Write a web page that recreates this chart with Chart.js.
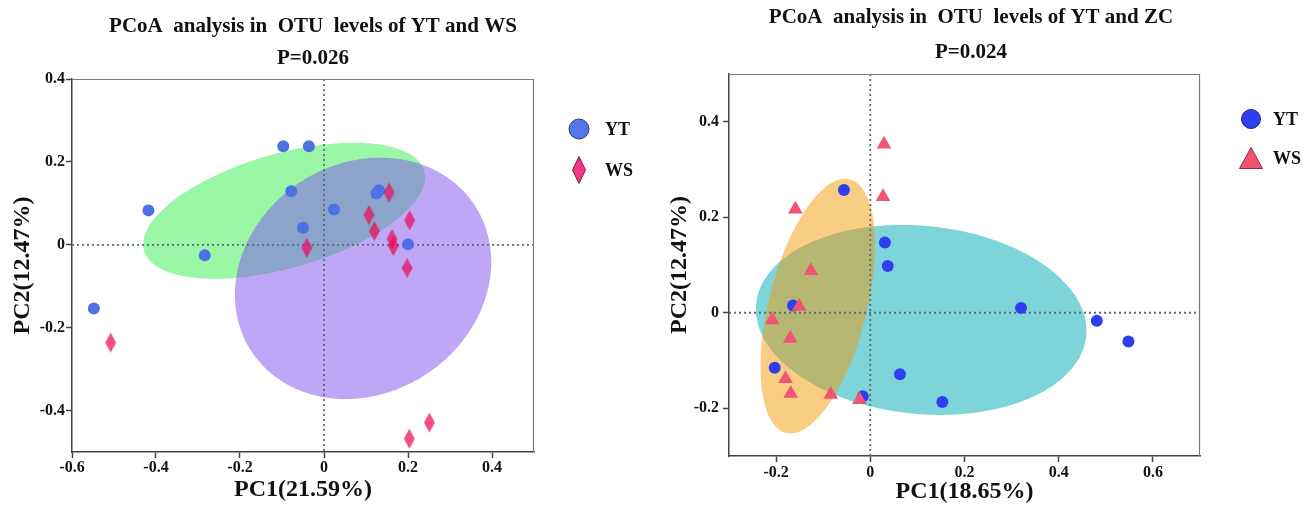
<!DOCTYPE html>
<html><head><meta charset="utf-8">
<script src="https://cdn.jsdelivr.net/npm/chart.js@4.4.1/dist/chart.umd.min.js"></script>
<style>
html,body{margin:0;padding:0;background:#fff;}
#wrap{position:relative;width:1307px;height:507px;overflow:hidden;background:#fff;}
canvas{position:absolute;top:0;}
#c1{left:0;} #c2{left:650px;}
</style></head><body>
<div id="wrap"><canvas id="c1" width="650" height="507"></canvas><canvas id="c2" width="657" height="507"></canvas></div>
<script>
// ---------- data : chart 1 (YT vs WS) ----------
const seriesLabels = ['YT', 'WS'];
const title1 = ['PCoA  analysis in  OTU  levels of YT and WS', 'P=0.026'];
const xTitle1 = 'PC1(21.59%)';
const yTitle1 = 'PC2(12.47%)';
const c1_YT_pc1 = [-0.548, -0.418, -0.284, -0.097, -0.036, -0.078, -0.050, 0.024, 0.125, 0.131, 0.200];
const c1_YT_pc2 = [-0.154, 0.083, -0.025, 0.238, 0.238, 0.129, 0.041, 0.085, 0.124, 0.131, 0.001];
const c1_WS_pc1 = [-0.508, 0.203, 0.251, 0.155, 0.107, 0.120, -0.041, 0.204, 0.162, 0.165, 0.198];
const c1_WS_pc2 = [-0.236, -0.468, -0.429, 0.126, 0.072, 0.033, -0.007, 0.059, 0.014, -0.003, -0.056];
// confidence ellipses: [centre pc1, centre pc2, semi-axis a, semi-axis b, angle deg]
const c1_YT_ellipse = [-0.095, 0.082, 0.347, 0.138, 16.2];
const c1_WS_ellipse = [0.093, -0.081, 0.319, 0.276, 35.6];
const c1_xRange = [-0.6, 0.5];
const c1_yRange = [-0.5, 0.4];
const c1_xTicks = [-0.6, -0.4, -0.2, 0, 0.2, 0.4];
const c1_yTicks = [-0.4, -0.2, 0, 0.2, 0.4];

// ---------- data : chart 2 (YT vs ZC) ----------
const title2 = ['PCoA  analysis in  OTU  levels of YT and ZC', 'P=0.024'];
const xTitle2 = 'PC1(18.65%)';
const yTitle2 = 'PC2(12.47%)';
const c2_YT_pc1 = [-0.056, 0.031, 0.037, -0.164, 0.320, 0.481, 0.548, -0.203, 0.063, -0.016, 0.153];
const c2_YT_pc2 = [0.257, 0.147, 0.098, 0.015, 0.010, -0.017, -0.060, -0.115, -0.129, -0.175, -0.187];
const c2_WS_pc1 = [0.029, 0.027, -0.159, -0.126, -0.151, -0.208, -0.170, -0.180, -0.169, -0.084, -0.023];
const c2_WS_pc2 = [0.353, 0.243, 0.217, 0.088, 0.013, -0.015, -0.054, -0.138, -0.169, -0.171, -0.182];
const c2_YT_ellipse = [0.108, -0.015, 0.352, 0.197, -5.4];
const c2_WS_ellipse = [-0.1115, 0.014, 0.274, 0.104, 75.6];
const c2_xRange = [-0.3, 0.7];
const c2_yRange = [-0.3, 0.5];
const c2_xTicks = [-0.2, 0, 0.2, 0.4, 0.6];
const c2_yTicks = [-0.2, 0, 0.2, 0.4];

// ---------- helpers ----------
const SERIF = '"Liberation Serif", "Times New Roman", serif';
const pts = (xs, ys) => xs.map((v, i) => ({x: v, y: ys[i]}));
const fmt = v => String(Number(Number(v).toFixed(1)) || 0);

function diamondImage(w, h, fill, stroke) {
  const c = document.createElement('canvas');
  c.width = w + 2; c.height = h + 2;
  const g = c.getContext('2d');
  g.beginPath();
  g.moveTo(c.width / 2, 1); g.lineTo(c.width - 1, c.height / 2);
  g.lineTo(c.width / 2, c.height - 1); g.lineTo(1, c.height / 2); g.closePath();
  g.fillStyle = fill; g.fill();
  if (stroke) { g.strokeStyle = stroke; g.lineWidth = 1; g.stroke(); }
  return c;
}

const decor = {
  id: 'decor',
  beforeDatasetsDraw(chart, args, opts) {
    const {ctx, chartArea: ca} = chart;
    const sx = chart.scales.x, sy = chart.scales.y;
    ctx.save();
    ctx.beginPath(); ctx.rect(ca.left, ca.top, ca.right - ca.left, ca.bottom - ca.top); ctx.clip();
    for (const e of opts.ellipses) {
      const [cx, cy, a, b, deg] = e.params;
      const th = deg * Math.PI / 180;
      ctx.beginPath();
      for (let i = 0; i <= 240; i++) {
        const t = i / 240 * 2 * Math.PI;
        const dx = a * Math.cos(t), dy = b * Math.sin(t);
        const vx = cx + dx * Math.cos(th) - dy * Math.sin(th);
        const vy = cy + dx * Math.sin(th) + dy * Math.cos(th);
        const px = sx.getPixelForValue(vx), py = sy.getPixelForValue(vy);
        if (i) ctx.lineTo(px, py); else ctx.moveTo(px, py);
      }
      ctx.closePath();
      ctx.fillStyle = e.color; ctx.fill();
    }
    ctx.setLineDash([2, 3]);
    ctx.lineWidth = 1.8;
    ctx.strokeStyle = '#5b6b7b';
    const x0 = sx.getPixelForValue(0), y0 = sy.getPixelForValue(0);
    ctx.beginPath();
    ctx.moveTo(x0, ca.top); ctx.lineTo(x0, ca.bottom);
    ctx.moveTo(ca.left, y0); ctx.lineTo(ca.right, y0);
    ctx.stroke();
    ctx.restore();
  },
  afterDraw(chart, args, opts) {
    const {ctx, chartArea: ca} = chart;
    ctx.save();
    ctx.strokeStyle = '#7a7a7a'; ctx.lineWidth = 1.2;
    ctx.beginPath();
    ctx.moveTo(ca.left, ca.top + 0.5); ctx.lineTo(ca.right - 0.5, ca.top + 0.5); ctx.lineTo(ca.right - 0.5, ca.bottom);
    ctx.stroke();
    // legend
    const L = opts.legend;
    chart.data.datasets.forEach((ds, i) => {
      const m = L.markers[i];
      const cy = L.ys[i];
      ctx.beginPath();
      if (m.type === 'circle') {
        ctx.arc(L.x, cy, m.r, 0, Math.PI * 2);
      } else if (m.type === 'diamond') {
        ctx.moveTo(L.x, cy - m.h / 2); ctx.lineTo(L.x + m.w / 2, cy);
        ctx.lineTo(L.x, cy + m.h / 2); ctx.lineTo(L.x - m.w / 2, cy); ctx.closePath();
      } else if (m.type === 'triangle') {
        ctx.moveTo(L.x, cy - m.h / 2); ctx.lineTo(L.x + m.w / 2, cy + m.h / 2);
        ctx.lineTo(L.x - m.w / 2, cy + m.h / 2); ctx.closePath();
      }
      ctx.fillStyle = m.fill; ctx.fill();
      ctx.strokeStyle = m.stroke; ctx.lineWidth = 1; ctx.stroke();
      ctx.fillStyle = '#111';
      ctx.font = 'bold 18px ' + SERIF;
      ctx.textAlign = 'left'; ctx.textBaseline = 'middle';
      ctx.fillText(ds.label, L.textX, cy + 1);
    });
    ctx.restore();
  }
};

function makeConfig(c) {
  const tickFont = {family: SERIF, weight: 'bold', size: 16};
  const titleFont = {family: SERIF, weight: 'bold', size: 24, lineHeight: 1.2};
  return {
    type: 'scatter',
    data: {datasets: c.datasets},
    plugins: [decor],
    options: {
      responsive: false, animation: false, devicePixelRatio: 1,
      layout: {padding: {left: 0, right: c.padR, top: 0, bottom: 0}},
      plugins: {
        legend: {display: false},
        tooltip: {enabled: false},
        title: {display: true, text: c.title, color: '#111',
          font: {family: SERIF, weight: 'bold', size: 21, lineHeight: c.titleLH},
          padding: {top: c.titlePadTop, bottom: 4}},
        decor: {ellipses: c.ellipses, legend: c.legend}
      },
      scales: {
        x: {
          type: 'linear', position: 'bottom', min: c.xRange[0], max: c.xRange[1],
          afterBuildTicks: s => { s.ticks = c.xTicks.map(v => ({value: v})); },
          afterFit: s => { s.height = c.xH; },
          ticks: {font: tickFont, color: '#111', padding: c.xTickPad, autoSkip: false, maxRotation: 0, callback: fmt},
          grid: {drawOnChartArea: false, drawTicks: true, tickLength: 6, tickColor: '#444', tickWidth: 1.5},
          border: {display: true, color: '#444', width: 1.5},
          title: {display: true, text: c.xTitle, color: '#111', font: titleFont, padding: {top: 0, bottom: c.xTitlePadB}}
        },
        y: {
          type: 'linear', position: 'left', min: c.yRange[0], max: c.yRange[1],
          afterBuildTicks: s => { s.ticks = c.yTicks.map(v => ({value: v})); },
          afterFit: s => { s.width = c.yW; },
          ticks: {font: tickFont, color: '#111', padding: c.yTickPad, autoSkip: false, callback: fmt},
          grid: {drawOnChartArea: false, drawTicks: true, tickLength: 6, tickColor: '#444', tickWidth: 1.5},
          border: {display: true, color: '#444', width: 1.5},
          title: {display: true, text: c.yTitle, color: '#111', font: titleFont, padding: {top: c.yTitlePadT, bottom: 0}}
        },
        spacer: {
          type: 'linear', position: 'right', display: true,
          afterFit: s => { s.width = c.spacerW; },
          ticks: {display: false}, grid: {display: false, drawTicks: false}, border: {display: false}
        }
      }
    }
  };
}

// ---------- chart 1 ----------
const diamond1 = diamondImage(11, 20, 'rgba(235,10,90,0.72)', null);
new Chart(document.getElementById('c1'), makeConfig({
  title: title1, titleLH: 32 / 21, titlePadTop: 11, padR: 24, spacerW: 92,
  xRange: c1_xRange, yRange: c1_yRange, xTicks: c1_xTicks, yTicks: c1_yTicks,
  xTitle: xTitle1, yTitle: yTitle1, xH: 55, yW: 72, xTickPad: 0, yTickPad: 1,
  xTitlePadB: 2.6, yTitlePadT: 8.6,
  datasets: [
    {label: seriesLabels[0], data: pts(c1_YT_pc1, c1_YT_pc2), order: 1, xAxisID: 'x', yAxisID: 'y',
     pointStyle: 'circle', pointRadius: 6, backgroundColor: '#4f71e6', borderColor: '#4f71e6', borderWidth: 0},
    {label: seriesLabels[1], data: pts(c1_WS_pc1, c1_WS_pc2), order: 0, xAxisID: 'x', yAxisID: 'y',
     pointStyle: diamond1, pointRadius: 8, backgroundColor: '#eb0a5a', borderWidth: 0}
  ],
  ellipses: [
    {params: c1_YT_ellipse, color: 'rgb(154,247,166)'},
    {params: c1_WS_ellipse, color: 'rgba(125,81,235,0.5)'}
  ],
  legend: {x: 579, textX: 605, ys: [129, 170], markers: [
    {type: 'circle', r: 10, fill: '#5576e8', stroke: '#2c3f8f'},
    {type: 'diamond', w: 13, h: 27, fill: '#ee3a86', stroke: '#8d1747'}
  ]}
}));

// ---------- chart 2 ----------
new Chart(document.getElementById('c2'), makeConfig({
  title: title2, titleLH: 35 / 21, titlePadTop: 0, padR: 15, spacerW: 92,
  xRange: c2_xRange, yRange: c2_yRange, xTicks: c2_xTicks, yTicks: c2_yTicks,
  xTitle: xTitle2, yTitle: yTitle2, xH: 51, yW: 79, xTickPad: 1.4, yTickPad: 4,
  xTitlePadB: 0.6, yTitlePadT: 15.6,
  datasets: [
    {label: seriesLabels[0], data: pts(c2_YT_pc1, c2_YT_pc2), order: 1, xAxisID: 'x', yAxisID: 'y',
     pointStyle: 'circle', pointRadius: 6, backgroundColor: '#2f3ff0', borderColor: '#2f3ff0', borderWidth: 0},
    {label: seriesLabels[1], data: pts(c2_WS_pc1, c2_WS_pc2), order: 0, xAxisID: 'x', yAxisID: 'y',
     pointStyle: 'triangle', pointRadius: 8.5, backgroundColor: '#f25473', borderColor: '#f25473', borderWidth: 0}
  ],
  ellipses: [
    {params: c2_YT_ellipse, color: 'rgb(125,213,218)'},
    {params: c2_WS_ellipse, color: 'rgba(245,150,0,0.48)'}
  ],
  legend: {x: 601, textX: 623, ys: [119, 158], markers: [
    {type: 'circle', r: 9.5, fill: '#2f3ff0', stroke: '#1c2580'},
    {type: 'triangle', w: 23, h: 21, fill: '#f2546f', stroke: '#8f2b3b'}
  ]}
}));
</script>
</body></html>
